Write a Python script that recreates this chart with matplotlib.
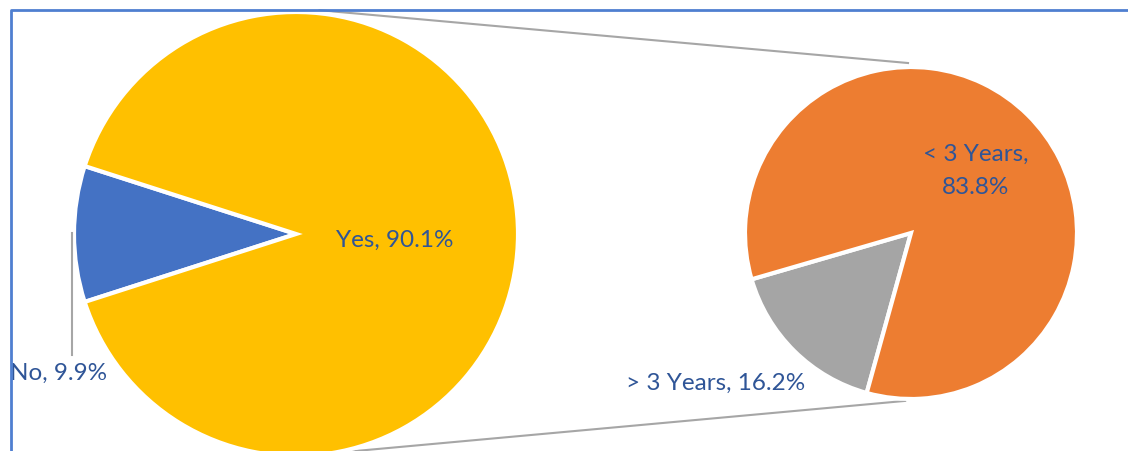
import numpy as np
import matplotlib.pyplot as plt

# main pie
main_labels = ["No", "Yes"]
main_values = [9.9, 90.1]
main_colors = ["#4472C4", "#FFC000"]

# breakdown of "Yes"
sub_labels = ["> 3 Years", "< 3 Years"]
sub_values = [16.2, 83.8]
sub_colors = ["#A5A5A5", "#ED7D31"]

W, H = 1128, 452
plt.rcParams['font.family'] = ['Lato', 'DejaVu Sans']
txt_color = "#2F5597"

fig = plt.figure(figsize=(W / 100, H / 100), dpi=100)
ax = fig.add_axes([0, 0, 1, 1])

c1, r1 = (296, H - 235), 222
c2, r2 = (911, H - 234), 166

# blue slice centred on the left side
start1 = 180 - main_values[0] / 100 * 360 / 2
ax.pie(main_values, colors=main_colors, startangle=start1, center=c1, radius=r1,
       wedgeprops=dict(edgecolor="white", linewidth=3))
ax.pie(sub_values, colors=sub_colors, startangle=196.2, center=c2, radius=r2,
       wedgeprops=dict(edgecolor="white", linewidth=3))

# connector lines between the pies
def pt(c, r, a):
    return c[0] + r * np.cos(np.radians(a)), c[1] + r * np.sin(np.radians(a))

for a1, ra, a2, rb in [(84, 225, 91, 170), (-81, 222, -92, 168)]:
    p1 = pt(c1, ra, a1)
    p2 = pt(c2, rb, a2)
    ax.plot([p1[0], p2[0]], [p1[1], p2[1]], color="#A6A6A6", lw=1.5, zorder=0)

# leader line for the small slice
ax.plot([72, 72], [H - 234, H - 356], color="#A6A6A6", lw=1.5)

fs = 17.5
ax.text(395, H - 240, f"{main_labels[1]}, {main_values[1]}%", ha="center", va="center",
        fontsize=fs, color=txt_color)
ax.text(59, H - 373, f"{main_labels[0]}, {main_values[0]}%", ha="center", va="center",
        fontsize=fs, color=txt_color)
ax.text(716, H - 383, f"{sub_labels[0]}, {sub_values[0]}%", ha="center", va="center",
        fontsize=fs, color=txt_color)
ax.text(976, H - 171, f"{sub_labels[1]},\n{sub_values[1]}%", ha="center", va="center",
        fontsize=fs, color=txt_color, linespacing=1.7)

# chart border (cut at right and bottom)
ax.plot([10.5, 10.5, W + 5], [-5, H - 10.5, H - 10.5], color="#4F7FD0", lw=2, zorder=5)

ax.set_xlim(0, W)
ax.set_ylim(0, H)
ax.set_aspect("equal")
ax.axis("off")

fig.savefig("out.png", dpi=100)
